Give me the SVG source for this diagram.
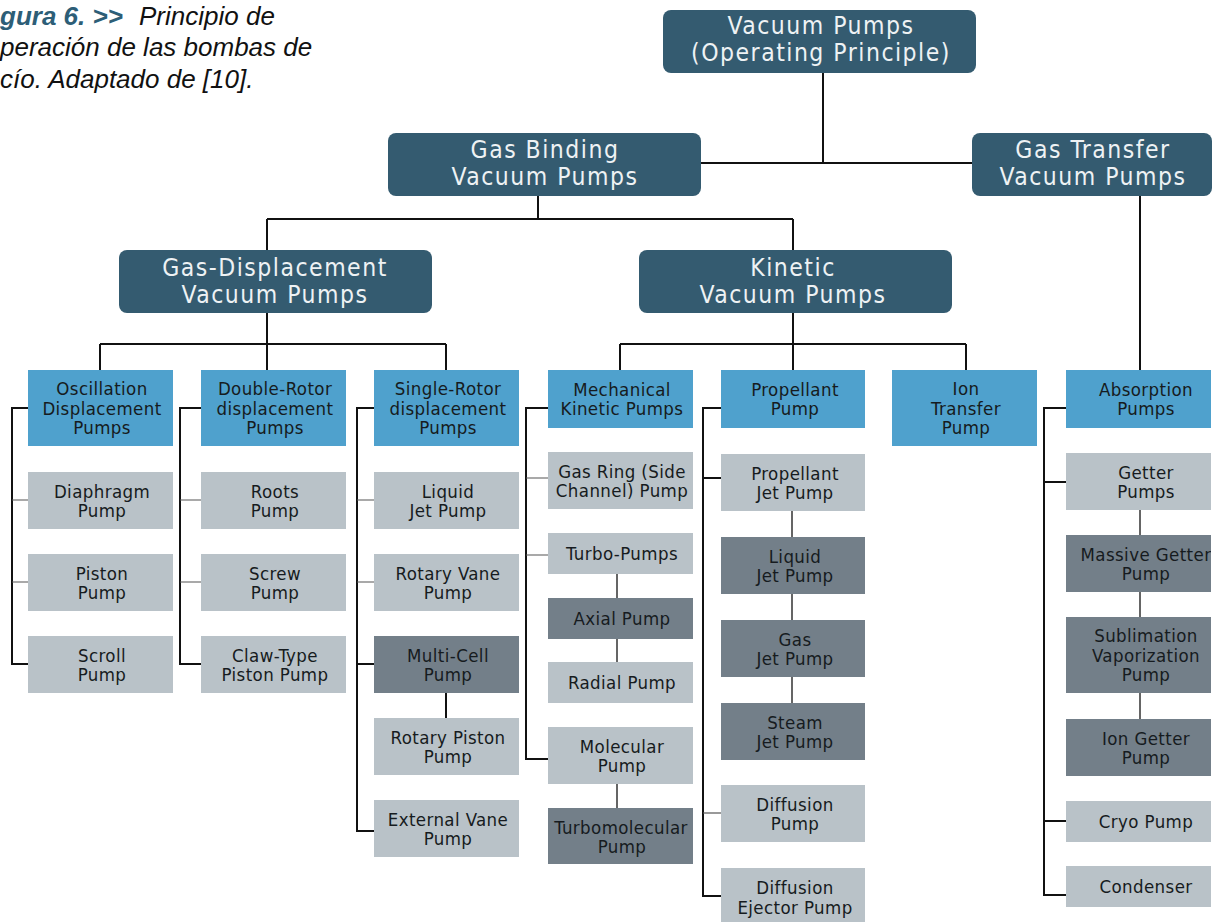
<svg xmlns="http://www.w3.org/2000/svg" width="1216" height="922" viewBox="0 0 1216 922">
<style>
.dk{fill:#345b70}
.bl{fill:#4fa1cd}
.lg{fill:#b9c2c8}
.mg{fill:#737f89}
text{font-family:"DejaVu Sans Condensed","DejaVu Sans",sans-serif;font-stretch:condensed;text-anchor:middle}
.t{font-size:18.5px;fill:#161b20;letter-spacing:0.4px}
.tw{font-size:24.5px;fill:#eef2f4;letter-spacing:1.5px}
.cap{font-family:"Liberation Sans",Arial,sans-serif;font-stretch:normal;font-style:italic;font-size:26px;fill:#111;text-anchor:start}
.capb{font-weight:bold;fill:#2d5e77}
.c{stroke:#111;stroke-width:2;fill:none}
.s{stroke:#555;stroke-width:1.2;fill:none}
.v{stroke:#333;stroke-width:1.5;fill:none}
</style>
<defs>
<clipPath id="clipG"><rect x="0" y="0" width="1211" height="922"/></clipPath>
</defs>
<rect x="0" y="0" width="1216" height="922" fill="#ffffff"/>

<g id="caption">
<text class="cap" x="0" y="25"><tspan class="capb">gura 6. &gt;&gt;</tspan><tspan x="139">Principio de</tspan></text>
<text class="cap" x="0" y="56">peración de las bombas de</text>
<text class="cap" x="0" y="88">cío. Adaptado de [10].</text>
</g>

<g id="connectors">
<path class="c" d="M823,73 V163 M701,163 H972"/>
<path class="c" d="M538,196 V219 M267,219 H793 M267,219 V250 M793,219 V250"/>
<path class="c" d="M1140,196 V370"/>
<path class="c" d="M267,313 V344 M100,344 H446 M100,344 V370 M267,344 V370 M446,344 V370"/>
<path class="c" d="M793,313 V344 M620,344 H966 M620,344 V370 M793,344 V370 M966,344 V370"/>
<path class="c" d="M28,408 H12 V664 H28"/>
<path class="s" d="M12,500 H28 M12,582 H28"/>
<path class="c" d="M201,408 H180 V664 H201"/>
<path class="s" d="M180,500 H201 M180,582 H201"/>
<path class="c" d="M374,408 H357 V831 H374 M357,664 H374"/>
<path class="s" d="M357,500 H374 M357,582 H374"/>
<path class="c" d="M446,693 V718"/>
<path class="c" d="M548,408 H526 V759 H548"/>
<path class="s" d="M526,478 H548 M526,555 H548"/>
<path class="v" d="M617,574 V598 M617,639 V662 M617,784 V808"/>
<path class="c" d="M721,408 H703 V896 H721 M703,478 H721"/>
<path class="s" d="M703,813 H721"/>
<path class="v" d="M792,511 V537 M792,594 V620 M792,677 V703"/>
<path class="c" d="M1066,408 H1044 V895 H1066 M1044,482 H1066 M1044,821 H1066"/>
<path class="v" d="M1140,510 V535 M1140,592 V617 M1140,693 V719"/>
</g>

<g id="n-root"><rect class="dk" x="663" y="10" width="313" height="63" rx="8"/><text class="tw" x="821" y="34">Vacuum Pumps</text><text class="tw" x="821" y="61">(Operating Principle)</text></g>
<g id="n-gasbinding"><rect class="dk" x="388" y="133" width="313" height="63" rx="8"/><text class="tw" x="545" y="158">Gas Binding</text><text class="tw" x="545" y="185">Vacuum Pumps</text></g>
<g id="n-gastransfer"><rect class="dk" x="972" y="133" width="240" height="63" rx="8"/><text class="tw" x="1093" y="158">Gas Transfer</text><text class="tw" x="1093" y="185">Vacuum Pumps</text></g>
<g id="n-gasdisp"><rect class="dk" x="119" y="250" width="313" height="63" rx="8"/><text class="tw" x="275" y="276">Gas-Displacement</text><text class="tw" x="275" y="303">Vacuum Pumps</text></g>
<g id="n-kinetic"><rect class="dk" x="639" y="250" width="313" height="63" rx="8"/><text class="tw" x="793" y="276">Kinetic</text><text class="tw" x="793" y="303">Vacuum Pumps</text></g>

<g id="n-oscillation"><rect class="bl" x="28" y="370" width="145" height="76"/><text class="t" x="102" y="395">Oscillation</text><text class="t" x="102" y="414.5">Displacement</text><text class="t" x="102" y="434">Pumps</text></g>
<g id="n-diaphragm"><rect class="lg" x="28" y="472" width="145" height="57"/><text class="t" x="102" y="497.5">Diaphragm</text><text class="t" x="102" y="517">Pump</text></g>
<g id="n-piston"><rect class="lg" x="28" y="554" width="145" height="57"/><text class="t" x="102" y="579.5">Piston</text><text class="t" x="102" y="599">Pump</text></g>
<g id="n-scroll"><rect class="lg" x="28" y="636" width="145" height="57"/><text class="t" x="102" y="661.5">Scroll</text><text class="t" x="102" y="681">Pump</text></g>

<g id="n-doublerotor"><rect class="bl" x="201" y="370" width="145" height="76"/><text class="t" x="275" y="395">Double-Rotor</text><text class="t" x="275" y="414.5">displacement</text><text class="t" x="275" y="434">Pumps</text></g>
<g id="n-roots"><rect class="lg" x="201" y="472" width="145" height="57"/><text class="t" x="275" y="497.5">Roots</text><text class="t" x="275" y="517">Pump</text></g>
<g id="n-screw"><rect class="lg" x="201" y="554" width="145" height="57"/><text class="t" x="275" y="579.5">Screw</text><text class="t" x="275" y="599">Pump</text></g>
<g id="n-claw"><rect class="lg" x="201" y="636" width="145" height="57"/><text class="t" x="275" y="661.5">Claw-Type</text><text class="t" x="275" y="681">Piston Pump</text></g>

<g id="n-singlerotor"><rect class="bl" x="374" y="370" width="145" height="76"/><text class="t" x="448" y="395">Single-Rotor</text><text class="t" x="448" y="414.5">displacement</text><text class="t" x="448" y="434">Pumps</text></g>
<g id="n-liquidjet1"><rect class="lg" x="374" y="472" width="145" height="57"/><text class="t" x="448" y="497.5">Liquid</text><text class="t" x="448" y="517">Jet Pump</text></g>
<g id="n-rotaryvane"><rect class="lg" x="374" y="554" width="145" height="57"/><text class="t" x="448" y="579.5">Rotary Vane</text><text class="t" x="448" y="599">Pump</text></g>
<g id="n-multicell"><rect class="mg" x="374" y="636" width="145" height="57"/><text class="t" x="448" y="661.5">Multi-Cell</text><text class="t" x="448" y="681">Pump</text></g>
<g id="n-rotarypiston"><rect class="lg" x="374" y="718" width="145" height="57"/><text class="t" x="448" y="743.5">Rotary Piston</text><text class="t" x="448" y="763">Pump</text></g>
<g id="n-externalvane"><rect class="lg" x="374" y="800" width="145" height="57"/><text class="t" x="448" y="825.5">External Vane</text><text class="t" x="448" y="845">Pump</text></g>

<g id="n-mechanical"><rect class="bl" x="548" y="370" width="145" height="58"/><text class="t" x="622" y="395.5">Mechanical</text><text class="t" x="622" y="415">Kinetic Pumps</text></g>
<g id="n-gasring"><rect class="lg" x="548" y="452" width="145" height="57"/><text class="t" x="622" y="477.5">Gas Ring (Side</text><text class="t" x="622" y="497">Channel) Pump</text></g>
<g id="n-turbo"><rect class="lg" x="548" y="533" width="145" height="41"/><text class="t" x="622" y="560">Turbo-Pumps</text></g>
<g id="n-axial"><rect class="mg" x="548" y="598" width="145" height="41"/><text class="t" x="622" y="625">Axial Pump</text></g>
<g id="n-radial"><rect class="lg" x="548" y="662" width="145" height="41"/><text class="t" x="622" y="689">Radial Pump</text></g>
<g id="n-molecular"><rect class="lg" x="548" y="727" width="145" height="57"/><text class="t" x="622" y="752.5">Molecular</text><text class="t" x="622" y="772">Pump</text></g>
<g id="n-turbomolecular"><rect class="mg" x="548" y="808" width="145" height="56"/><text class="t" x="621" y="833.5">Turbomolecular</text><text class="t" x="622" y="853">Pump</text></g>

<g id="n-propellant"><rect class="bl" x="721" y="370" width="144" height="58"/><text class="t" x="795" y="395.5">Propellant</text><text class="t" x="795" y="415">Pump</text></g>
<g id="n-propjet"><rect class="lg" x="721" y="454" width="144" height="57"/><text class="t" x="795" y="479.5">Propellant</text><text class="t" x="795" y="499">Jet Pump</text></g>
<g id="n-liquidjet2"><rect class="mg" x="721" y="537" width="144" height="57"/><text class="t" x="795" y="562.5">Liquid</text><text class="t" x="795" y="582">Jet Pump</text></g>
<g id="n-gasjet"><rect class="mg" x="721" y="620" width="144" height="57"/><text class="t" x="795" y="645.5">Gas</text><text class="t" x="795" y="665">Jet Pump</text></g>
<g id="n-steamjet"><rect class="mg" x="721" y="703" width="144" height="57"/><text class="t" x="795" y="728.5">Steam</text><text class="t" x="795" y="748">Jet Pump</text></g>
<g id="n-diffusion"><rect class="lg" x="721" y="785" width="144" height="57"/><text class="t" x="795" y="810.5">Diffusion</text><text class="t" x="795" y="830">Pump</text></g>
<g id="n-diffejector"><rect class="lg" x="721" y="868" width="144" height="57"/><text class="t" x="795" y="894">Diffusion</text><text class="t" x="795" y="914">Ejector Pump</text></g>

<g id="n-iontransfer"><rect class="bl" x="892" y="370" width="145" height="76"/><text class="t" x="966" y="395">Ion</text><text class="t" x="966" y="414.5">Transfer</text><text class="t" x="966" y="434">Pump</text></g>

<g id="col-absorption" clip-path="url(#clipG)">
<g id="n-absorption"><rect class="bl" x="1066" y="370" width="150" height="58"/><text class="t" x="1146" y="395.5">Absorption</text><text class="t" x="1146" y="415">Pumps</text></g>
<g id="n-getter"><rect class="lg" x="1066" y="453" width="150" height="57"/><text class="t" x="1146" y="478.5">Getter</text><text class="t" x="1146" y="498">Pumps</text></g>
<g id="n-massivegetter"><rect class="mg" x="1066" y="535" width="150" height="57"/><text class="t" x="1146" y="560.5">Massive Getter</text><text class="t" x="1146" y="580">Pump</text></g>
<g id="n-sublimation"><rect class="mg" x="1066" y="617" width="150" height="76"/><text class="t" x="1146" y="642">Sublimation</text><text class="t" x="1146" y="661.5">Vaporization</text><text class="t" x="1146" y="681">Pump</text></g>
<g id="n-iongetter"><rect class="mg" x="1066" y="719" width="150" height="57"/><text class="t" x="1146" y="744.5">Ion Getter</text><text class="t" x="1146" y="764">Pump</text></g>
<g id="n-cryo"><rect class="lg" x="1066" y="801" width="150" height="41"/><text class="t" x="1146" y="828">Cryo Pump</text></g>
<g id="n-condenser"><rect class="lg" x="1066" y="866" width="150" height="41"/><text class="t" x="1146" y="893">Condenser</text></g>
</g>
</svg>
